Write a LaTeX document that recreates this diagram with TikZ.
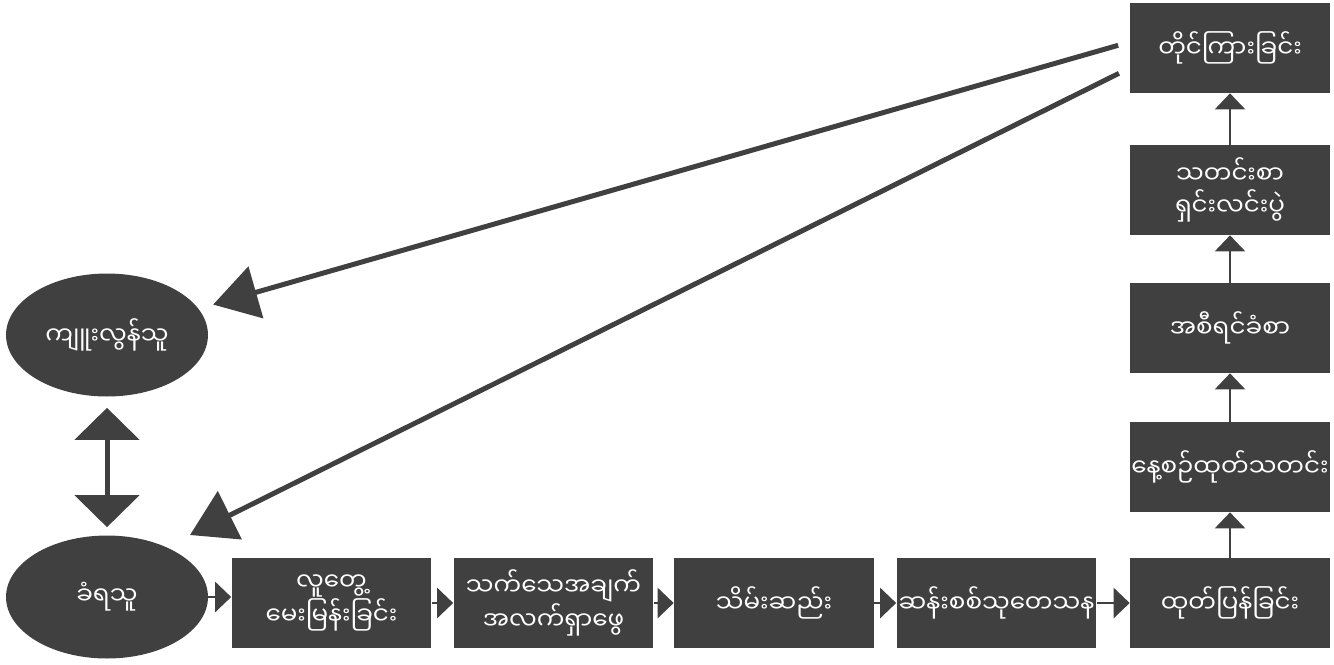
\documentclass[tikz,border=0pt]{standalone}
\usepackage{fontspec}
\newfontfamily\mmfont[Script=Myanmar]{Noto Sans Myanmar UI}
\usepackage{tikz}
\usetikzlibrary{arrows.meta, shapes.geometric}
\definecolor{gris}{HTML}{404040}

\begin{document}
\begin{tikzpicture}[x=0.02cm, y=-0.02cm,
  caja/.style={fill=gris, text=white, minimum width=4cm, minimum height=1.8cm,
    inner sep=0pt, align=center, font=\mmfont\fontsize{14}{18}\selectfont},
  elipse/.style={ellipse, fill=gris, text=white, minimum width=4.04cm,
    minimum height=2.46cm, inner sep=0pt, font=\mmfont\fontsize{14}{18}\selectfont},
  flecha/.style={-{Triangle[length=3.2mm, width=6mm]}, line width=0.05cm, gris},
  doble/.style={{Triangle[length=6.4mm, width=12.8mm]}-{Triangle[length=6.4mm, width=12.8mm]},
    line width=0.1cm, gris},
  diag/.style={-{Triangle[length=8.9mm, width=10.6mm]}, line width=0.1cm, gris}]
  \useasboundingbox (0,0) rectangle (1334,664);
  % partes
  \node[elipse] (ky) at (107,335) {ကျူးလွန်သူ};
  \node[elipse] (kh) at (107,597) {ခံရသူ};
  % fila de abajo
  \node[caja] (lt) at (331.5,603) {လူတွေ့\\မေးမြန်းခြင်း};
  \node[caja] (ss) at (553.5,603) {သက်သေအချက်\\အလက်ရှာဖွေ};
  \node[caja] (sm) at (774,603) {သိမ်းဆည်း};
  \node[caja] (sc) at (996.5,603) {ဆန်းစစ်သုတေသန};
  \node[caja] (tp) at (1230,603) {ထုတ်ပြန်ခြင်း};
  % columna derecha
  \node[caja] (ns) at (1230,467) {နေ့စဉ်ထုတ်သတင်း};
  \node[caja] (ar) at (1230,328) {အစီရင်ခံစာ};
  \node[caja] (sr) at (1230,190) {သတင်းစာ\\ရှင်းလင်းပွဲ};
  \node[caja] (tk) at (1230,48) {တိုင်ကြားခြင်း};
  \coordinate (punta) at (190,535);
  % flechas
  \draw[flecha] (kh.east) -- (kh.east -| lt.west);
  \foreach \a/\b in {lt/ss, ss/sm, sm/sc, sc/tp, tp/ns, ns/ar, ar/sr, sr/tk}
    \draw[flecha] (\a) -- (\b);
  \draw[doble, shorten <=0.22cm, shorten >=0.16cm] (ky) -- (kh);
  % quejas hacia las partes
  \draw[diag, shorten <=0.24cm, shorten >=0.3cm] ([yshift=0.12cm]tk.west) -- (ky);
  \draw[diag, shorten <=0.24cm] ([yshift=-0.4cm]tk.west) -- (punta);
\end{tikzpicture}
\end{document}
